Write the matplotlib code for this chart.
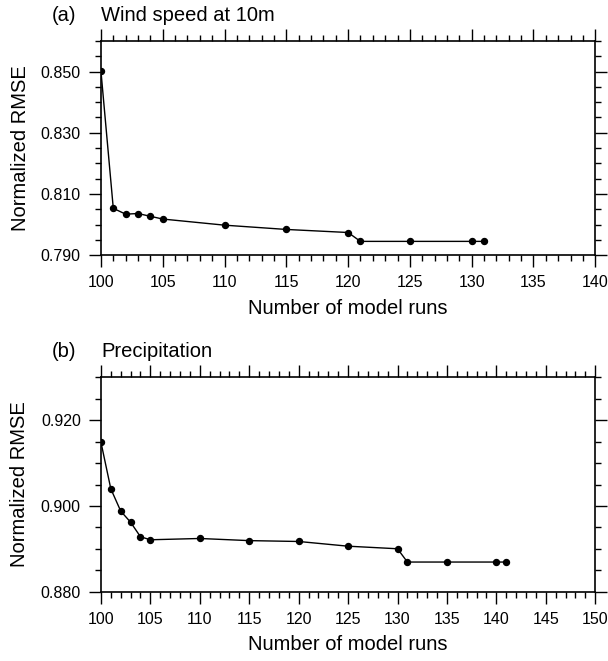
import numpy as np
import matplotlib
matplotlib.use('Agg')
import matplotlib.pyplot as plt
from matplotlib.ticker import MultipleLocator, FixedLocator, FormatStrFormatter

plt.rcParams['font.family'] = ['Liberation Sans', 'DejaVu Sans']

# panel (a): wind speed at 10m
runs_a = [100, 101, 102, 103, 104, 105, 110, 115, 120, 121, 125, 130, 131]
rmse_a = [0.8502, 0.8053, 0.8034, 0.8036, 0.8027, 0.8018, 0.7998, 0.7984,
          0.7974, 0.7945, 0.7945, 0.7945, 0.7945]
yticks_a = [0.790, 0.810, 0.830, 0.850]

# panel (b): precipitation
runs_b = [100, 101, 102, 103, 104, 105, 110, 115, 120, 125, 130, 131, 135, 140, 141]
rmse_b = [0.9149, 0.9040, 0.8988, 0.8962, 0.8928, 0.8921, 0.8924, 0.8919,
          0.8917, 0.8906, 0.8900, 0.8869, 0.8869, 0.8869, 0.8869]
yticks_b = [0.880, 0.900, 0.920]

fig = plt.figure(figsize=(6.08, 6.61), dpi=100)

panels = [
    ([0.166, 0.614, 0.813, 0.324], runs_a, rmse_a, (100, 140), (0.79, 0.86), yticks_a, '(a)', 'Wind speed at 10m'),
    ([0.166, 0.105, 0.813, 0.324], runs_b, rmse_b, (100, 150), (0.88, 0.93), yticks_b, '(b)', 'Precipitation'),
]

for rect, x, y, xlim, ylim, yt, tag, title in panels:
    ax = fig.add_axes(rect)
    ax.plot(x, y, color='black', lw=1.0, marker='o', markersize=4.3)
    ax.set_xlim(*xlim)
    ax.set_ylim(*ylim)
    ax.xaxis.set_major_locator(MultipleLocator(5))
    ax.xaxis.set_minor_locator(MultipleLocator(1))
    ax.yaxis.set_major_locator(FixedLocator(yt))
    ax.yaxis.set_minor_locator(MultipleLocator(0.005))
    ax.yaxis.set_major_formatter(FormatStrFormatter('%.3f'))
    ax.tick_params(which='both', direction='out', top=True, right=True,
                   width=1.0, labelsize=11.5, pad=6)
    ax.tick_params(which='major', length=8.5)
    ax.tick_params(which='minor', length=4.3)
    for s in ax.spines.values():
        s.set_linewidth(1.2)
    ax.set_xlabel('Number of model runs', fontsize=14.5, labelpad=6)
    ax.set_ylabel('Normalized RMSE', fontsize=14.5, labelpad=8)
    ax.text(0.0, 1.075, title, transform=ax.transAxes, fontsize=14.5,
            ha='left', va='bottom')
    ax.text(-0.099, 1.075, tag, transform=ax.transAxes, fontsize=14.5,
            ha='left', va='bottom')

fig.savefig('out.png', dpi=100)
